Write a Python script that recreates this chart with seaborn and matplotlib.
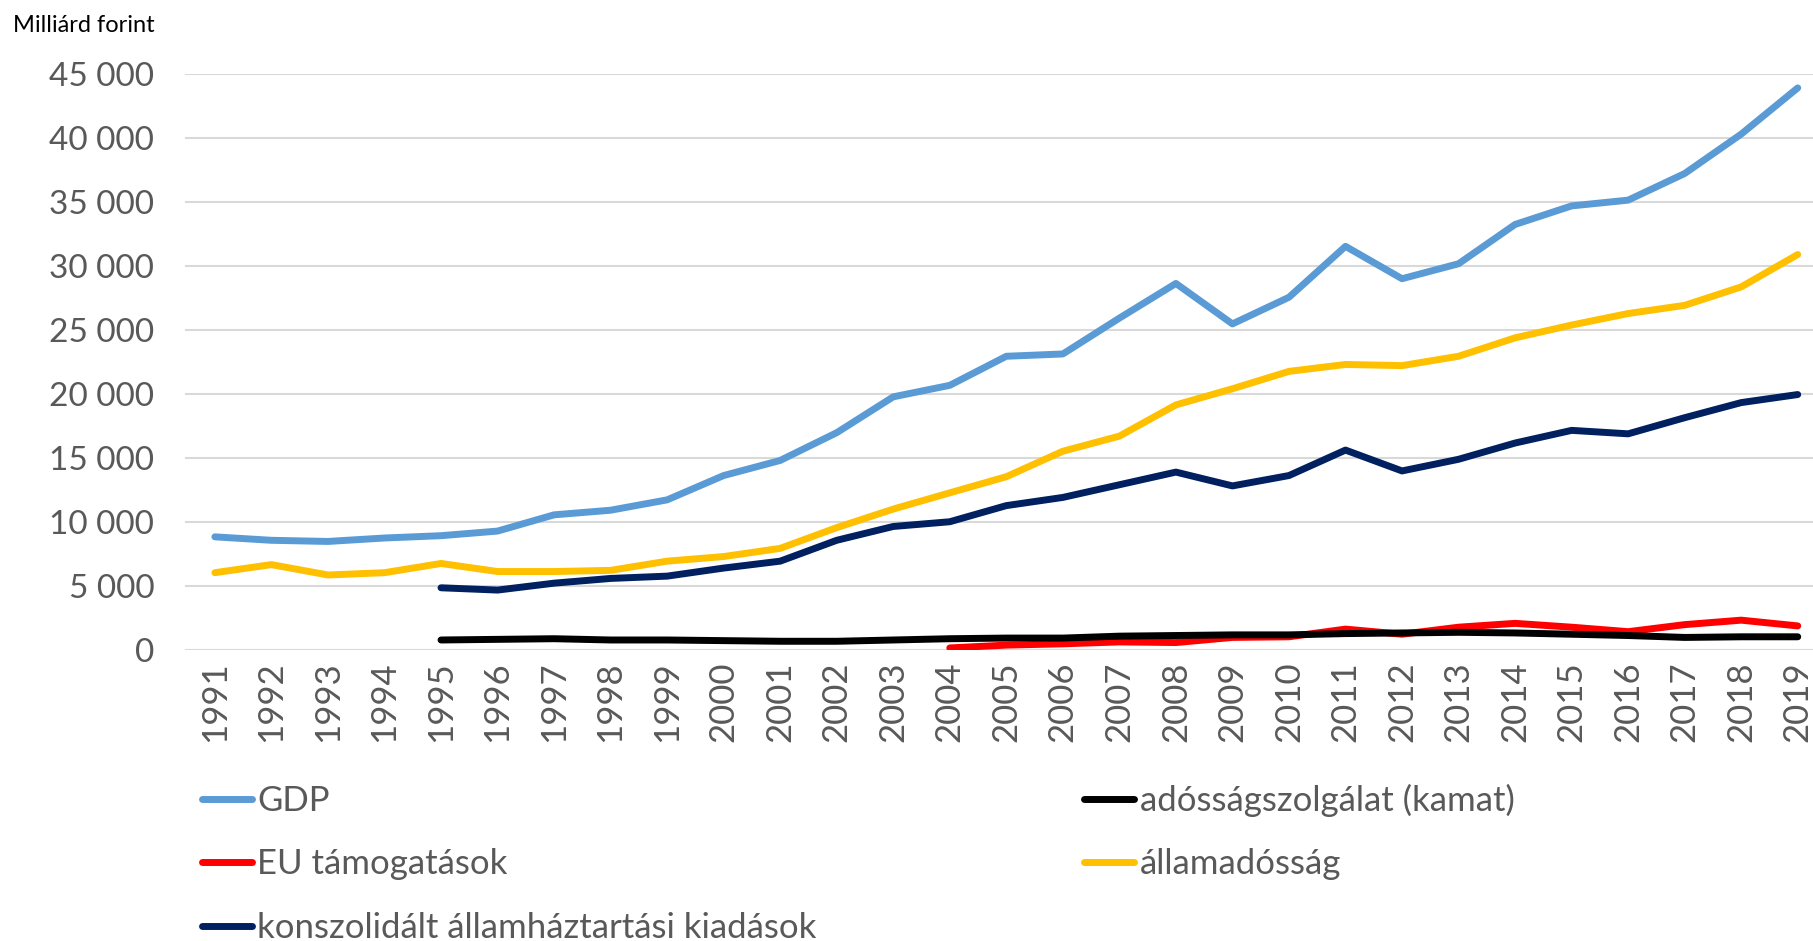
import numpy as np
import pandas as pd
import seaborn as sns
import matplotlib.pyplot as plt

years = list(range(1991, 2020))

gdp = [8860, 8590, 8500, 8770, 8950, 9310, 10580, 10940, 11750, 13650,
       14830, 17000, 19800, 20700, 22970, 23150, 25950, 28660, 25500, 27580,
       31560, 29030, 30200, 33270, 34720, 35170, 37250, 40330, 43940]
allamadossag = [6060, 6690, 5880, 6060, 6780, 6150, 6150, 6240, 6960, 7320,
                7960, 9580, 11030, 12300, 13560, 15550, 16730, 19170, 20430, 21790,
                22330, 22240, 22970, 24410, 25410, 26310, 26950, 28390, 30920]
kiadasok = [None] * 4 + [4880, 4700, 5240, 5610, 5790, 6420,
                         6960, 8590, 9670, 10040, 11300, 11940, 12930, 13920, 12840, 13650,
                         15640, 14010, 14920, 16190, 17180, 16910, 18170, 19350, 19980]
kamat = [None] * 4 + [800, 850, 900, 800, 800, 750,
                      700, 700, 800, 900, 950, 950, 1100, 1150, 1200, 1200,
                      1300, 1350, 1400, 1350, 1250, 1150, 1000, 1050, 1050]
eu = [None] * 13 + [180, 400, 500, 650, 600, 1000, 1050,
                    1650, 1250, 1800, 2100, 1800, 1450, 2000, 2350, 1900]

series = {
    "GDP": gdp,
    "EU támogatások": eu,
    "konszolidált államháztartási kiadások": kiadasok,
    "adósságszolgálat (kamat)": kamat,
    "államadósság": allamadossag,
}
colors = {
    "GDP": "#5B9BD5",
    "EU támogatások": "#FF0000",
    "konszolidált államháztartási kiadások": "#002060",
    "adósságszolgálat (kamat)": "#000000",
    "államadósság": "#FFC000",
}

rows = []
for name, vals in series.items():
    for y, v in zip(years, vals):
        if v is not None:
            rows.append({"ev": y, "ertek": v, "sorozat": name})
df = pd.DataFrame(rows)

sns.set_style("white")
plt.rcParams["font.family"] = ["Lato", "DejaVu Sans"]

fig = plt.figure(figsize=(18.13, 9.41), dpi=100)
ax = fig.add_axes([0.102, 0.309, 0.898, 0.612])

sns.lineplot(data=df, x="ev", y="ertek", hue="sorozat", hue_order=list(series.keys()),
             palette=colors, linewidth=5, ax=ax, legend=False,
             solid_capstyle="round")

ax.set_xlim(1990.47, 2019.27)
ax.set_ylim(0, 45000)
ax.set_yticks(np.arange(0, 45001, 5000))
ax.set_yticklabels([f"{v:,}".replace(",", " ") for v in range(0, 45001, 5000)])
ax.set_xticks(years)
ax.set_xticklabels([str(y) for y in years], rotation=90)
ax.tick_params(axis="x", labelsize=25, colors="#595959", length=0, pad=8)
ax.tick_params(axis="y", labelsize=24, colors="#595959", length=0, pad=22)
ax.grid(axis="y", color="#D9D9D9", linewidth=1.5)
ax.set_axisbelow(True)
for s in ax.spines.values():
    s.set_visible(False)
ax.set_xlabel("")
ax.set_ylabel("")

fig.text(0.007, 0.973, "Milliárd forint", fontsize=17, color="#000000",
         ha="left", va="center")

handles = [plt.Line2D([0], [0], color=colors[n], linewidth=5, solid_capstyle="round")
           for n in series]
fig.legend(handles, list(series.keys()), loc="upper left", bbox_to_anchor=(0.094, 0.2),
           ncol=2, frameon=False, fontsize=25, labelcolor="#595959",
           handlelength=1.45, handletextpad=0.15, columnspacing=7.7, labelspacing=0.9)

fig.savefig("out.png", dpi=100)
